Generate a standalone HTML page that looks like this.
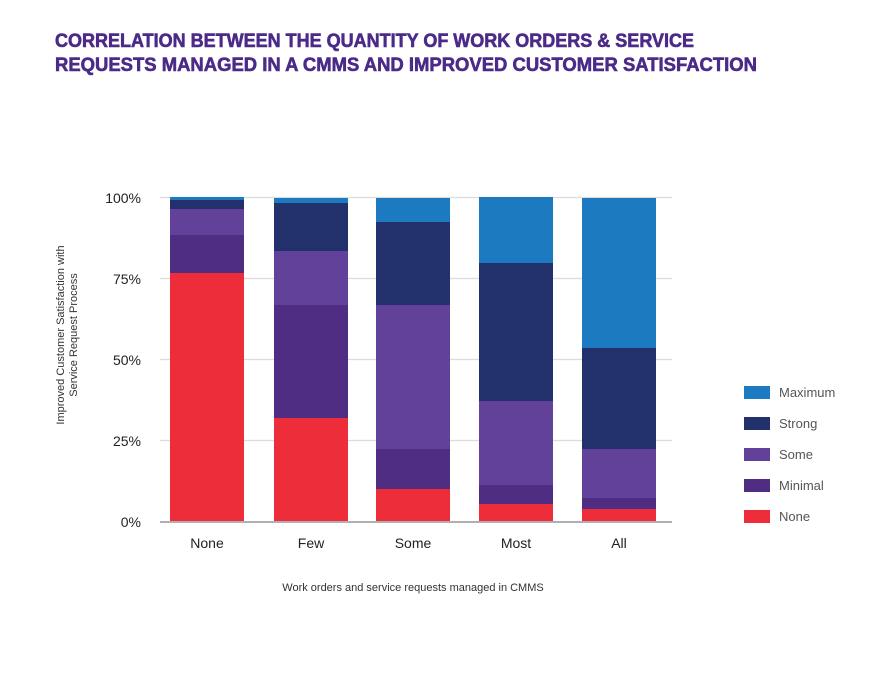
<!DOCTYPE html>
<html><head><style>html,body{margin:0;padding:0;background:#fff}svg{display:block}</style></head>
<body>
<svg width="889" height="682" xmlns="http://www.w3.org/2000/svg" font-family="Liberation Sans, sans-serif">
<rect width="889" height="682" fill="#fff"/>
<g fill="#4b2a88" stroke="#4b2a88" stroke-width="0.6" font-weight="bold" font-size="19">
<text x="55" y="47" textLength="639" lengthAdjust="spacingAndGlyphs">CORRELATION BETWEEN THE QUANTITY OF WORK ORDERS &amp; SERVICE</text>
<text x="55" y="71" textLength="702" lengthAdjust="spacingAndGlyphs">REQUESTS MANAGED IN A CMMS AND IMPROVED CUSTOMER SATISFACTION</text>
</g>
<g stroke="#dcdcdc" stroke-width="1.2">
<line x1="160" y1="197.5" x2="672" y2="197.5"/>
<line x1="160" y1="278.5" x2="672" y2="278.5"/>
<line x1="160" y1="359.5" x2="672" y2="359.5"/>
<line x1="160" y1="440.5" x2="672" y2="440.5"/>
</g>
<rect x="170" y="197" width="74" height="3" fill="#1c7bc0"/>
<rect x="170" y="200" width="74" height="9" fill="#22306b"/>
<rect x="170" y="209" width="74" height="26" fill="#62419a"/>
<rect x="170" y="235" width="74" height="38" fill="#4f2d82"/>
<rect x="170" y="273" width="74" height="249" fill="#ee2d3a"/>
<rect x="274" y="198" width="74" height="5" fill="#1c7bc0"/>
<rect x="274" y="203" width="74" height="48" fill="#22306b"/>
<rect x="274" y="251" width="74" height="54" fill="#62419a"/>
<rect x="274" y="305" width="74" height="113" fill="#4f2d82"/>
<rect x="274" y="418" width="74" height="104" fill="#ee2d3a"/>
<rect x="376" y="198" width="74" height="24" fill="#1c7bc0"/>
<rect x="376" y="222" width="74" height="83" fill="#22306b"/>
<rect x="376" y="305" width="74" height="144" fill="#62419a"/>
<rect x="376" y="449" width="74" height="40" fill="#4f2d82"/>
<rect x="376" y="489" width="74" height="33" fill="#ee2d3a"/>
<rect x="479" y="197" width="74" height="66" fill="#1c7bc0"/>
<rect x="479" y="263" width="74" height="138" fill="#22306b"/>
<rect x="479" y="401" width="74" height="84" fill="#62419a"/>
<rect x="479" y="485" width="74" height="19" fill="#4f2d82"/>
<rect x="479" y="504" width="74" height="18" fill="#ee2d3a"/>
<rect x="582" y="198" width="74" height="150" fill="#1c7bc0"/>
<rect x="582" y="348" width="74" height="101" fill="#22306b"/>
<rect x="582" y="449" width="74" height="49" fill="#62419a"/>
<rect x="582" y="498" width="74" height="11" fill="#4f2d82"/>
<rect x="582" y="509" width="74" height="13" fill="#ee2d3a"/>
<line x1="160" y1="522" x2="672" y2="522" stroke="#b0b0b0" stroke-width="2"/>
<g font-size="14" fill="#222" text-anchor="end">
<text x="141" y="203">100%</text>
<text x="141" y="284">75%</text>
<text x="141" y="365">50%</text>
<text x="141" y="446">25%</text>
<text x="141" y="527">0%</text>
</g>
<g font-size="14" fill="#222" text-anchor="middle">
<text x="207" y="548">None</text>
<text x="311" y="548">Few</text>
<text x="413" y="548">Some</text>
<text x="516" y="548">Most</text>
<text x="619" y="548">All</text>
</g>
<text x="413" y="591" font-size="11" fill="#333" text-anchor="middle">Work orders and service requests managed in CMMS</text>
<g font-size="11" fill="#333" text-anchor="middle">
<text transform="translate(64,335) rotate(-90)">Improved Customer Satisfaction with</text>
<text transform="translate(77,335) rotate(-90)">Service Request Process</text>
</g>
<rect x="744" y="386" width="26" height="13" fill="#1c7bc0"/>
<rect x="744" y="417" width="26" height="13" fill="#22306b"/>
<rect x="744" y="448" width="26" height="13" fill="#62419a"/>
<rect x="744" y="479" width="26" height="13" fill="#4f2d82"/>
<rect x="744" y="510" width="26" height="13" fill="#ee2d3a"/>
<g font-size="13" fill="#555">
<text x="779" y="397">Maximum</text>
<text x="779" y="428">Strong</text>
<text x="779" y="459">Some</text>
<text x="779" y="490">Minimal</text>
<text x="779" y="521">None</text>
</g>
</svg>
</body></html>
